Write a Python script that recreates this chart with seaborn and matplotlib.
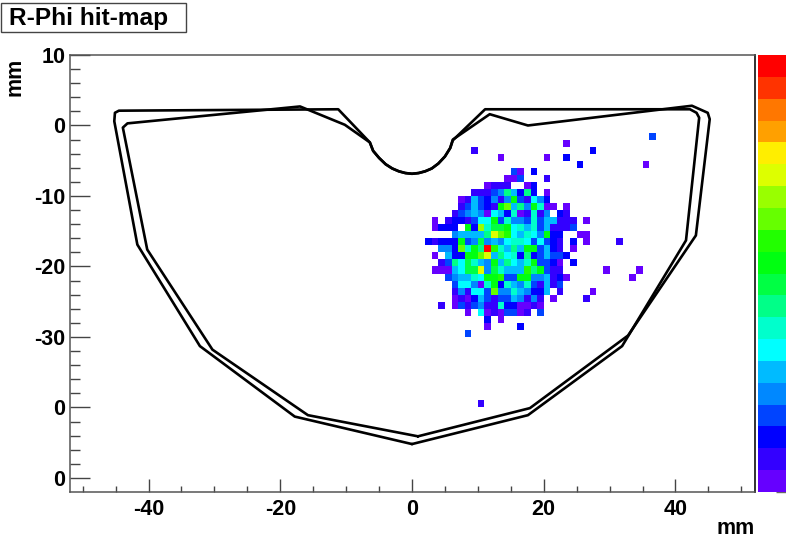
import matplotlib
matplotlib.use("Agg")
import matplotlib.pyplot as plt
import numpy as np
import seaborn as sns
from matplotlib.colors import ListedColormap
from matplotlib.patches import Rectangle
from matplotlib.ticker import FixedLocator

_ = None

# colour levels, lowest first
level_colors = [
    "#6600ff", "#3300ff", "#0000ff", "#0044ff", "#0088ff",
    "#00bbff", "#00ffff", "#00ffcc", "#00ff88", "#00ff44",
    "#00ff11", "#22ff00", "#66ff00", "#99ff00", "#ddff00",
    "#ffee00", "#ffa000", "#ff7700", "#ff3300", "#ff0000",
]

# main blob: lower bin edge in y, first bin in x, colour level per bin
blob_y = [-7, -8, -9, -10, -11, -12, -13, -14, -15, -16, -17, -18,
          -19, -20, -21, -22, -23, -24, -25, -26, -27, -28, -29]
blob_x = [15, 14, 11, 9, 7, 7, 6, 3, 3, 6, 2, 4,
          3, 4, 3, 5, 6, 6, 6, 6, 8, 11, 11]
blob_levels = [
    [3, 0, _, 2],
    [0, 0, 3, _, _, _, 1],
    [0, 1, 1, 1, _, _, 0, 2],
    [1, 1, 1, 3, 4, 8, 5, 2, 8, 2, _, 0],
    [0, 1, 5, 3, 2, 4, 1, 4, 10, 3, 1, 6, 4, 2],
    [1, 3, 5, 3, 2, 1, 10, 12, 5, 8, 4, 10, 7, 0, 0, _, 0],
    [1, 3, 4, 5, 4, 0, 6, 5, 2, 7, 0, 1, 7, 1, 4, _, 2, 1],
    [0, _, 1, 2, 2, 1, 3, 6, 6, 10, 3, 7, 4, 4, 3, 7, 3, 5, 5, 1, 1, 1],
    [0, 2, 2, 2, _, 10, 2, 13, 7, 9, 9, 10, 6, 7, 5, 7, 3, 5, 1, 1, 1, 3],
    [4, 5, 5, 5, 5, 8, 14, 12, 11, 6, 5, 7, 6, 4, 10, 2, 2, _, _, 0, 0],
    [2, 1, 2, 2, 2, 10, 3, 4, 9, 4, 5, 4, 6, 7, 7, 6, 3, 6, 3, 2, 1, _, 2],
    [4, 4, 2, 12, 7, 10, 8, 19, 11, 7, 5, 8, 5, 10, 10, 3, 5, 2, 1, _, 0],
    [0, _, 5, 2, 2, 10, 10, 12, 14, 5, 8, 6, 7, 2, 8, 2, 3, 5, 3, 3, 2],
    [1, 3, 8, 6, 9, 7, 5, 4, 10, 5, 8, 6, 5, 7, 10, 3, 3, 2, 0, _, 2],
    [0, 0, 0, 5, 6, 9, 9, 14, 4, 9, 7, 5, 5, 5, 11, 8, 10, 3, 1, 1],
    [3, 4, 5, 5, 7, 6, 10, 10, 11, 3, 3, 10, 10, 4, 4, 5, 1, 2, 0],
    [3, 6, 6, 4, 0, 7, 10, 2, 7, 5, 4, 7, 3, 1, 5, 1, 3],
    [1, 4, 1, 6, 6, 3, 12, 4, 4, 7, 5, 4, 2, 2, 5, _, 1],
    [0, 1, 0, 2, 5, 3, 1, 3, 3, 5, 4, 1, 4, 1, _, 0],
    [0, 3, 1, 3, 4, 1, 1, 7, 2, 2, 0, 0, 1, 0],
    [0, _, 6, 0, 1, 0, 3, 3, 0, 1, _, 3],
    [2, _, 0],
    [0],
]

# isolated hits away from the blob
stray_x = [36, 23, 9, 27, 13, 20, 23, 25, 35, 10, 8, 16, 34, 29, 33, 31, 27, 26, 4, 26, 26]
stray_y = [-2, -3, -4, -4, -5, -5, -5, -6, -6, -40, -30, -29, -21, -21, -22, -17, -24, -25, -26, -17, -14]
stray_levels = [3, 0, 1, 2, 0, 0, 2, 2, 0, 1, 3, 2, 0, 0, 0, 1, 0, 1, 1, 0, 0]

# sensor outlines in mm
outline_a_x = [0, 17.6, 31.9, 41.6, 43.6, 43.2, 42.2, 11.1, 6.2, 5.8, 5.0, 4.0, 3.0, 2.0, 1.0, 0,
               -1.0, -2.0, -3.0, -4.0, -5.0, -5.9, -6.4, -11.2, -44.5, -45.1, -45.2,
               -41.7, -32.2, -17.8, 0]
outline_a_y = [-45.2, -41.1, -31.3, -16.3, 1.1, 1.8, 2.3, 2.3, -2.1, -3.2, -4.4, -5.4, -6.1, -6.5, -6.75, -6.85,
               -6.75, -6.5, -6.1, -5.5, -4.6, -3.6, -2.4, 2.3, 2.1, 1.8, 0.6,
               -16.9, -31.3, -41.3, -45.2]
outline_b_x = [0.9, 17.9, 32.8, 43.1, 45.2, 44.9, 42.5, 17.6, 11.8, 6.2, 5.8, 5.0, 4.0, 3.0, 2.0, 1.0, 0,
               -1.0, -2.0, -3.0, -4.0, -5.0, -5.9, -6.4, -10.2, -17.0, -43.2, -43.9,
               -40.2, -30.3, -15.8, 0.9]
outline_b_y = [-44.1, -40.1, -29.8, -15.6, 0.9, 1.8, 2.8, 0, 1.6, -2.0, -3.2, -4.4, -5.4, -6.1, -6.5, -6.75, -6.85,
               -6.75, -6.5, -6.1, -5.5, -4.6, -3.6, -2.4, 0.1, 2.7, 0.3, -0.3,
               -17.6, -31.8, -41.1, -44.1]

x_major = [-40, -20, 0, 20, 40]
y_major = [10, 0, -10, -20, -30, -40, -50]
y_labels = ["10", "0", "-10", "-20", "-30", "0", "0"]
cbar_ticks = [0, 2.63, 5.26, 7.89, 10.52, 13.15, 15.78, 18.41]

X_MIN, X_MAX = -52, 52
Y_MIN, Y_MAX = -52, 10
W, H = 786, 541

sns.set_theme(style="white")
plt.rcParams["font.family"] = ["Liberation Sans", "DejaVu Sans"]
plt.rcParams["font.weight"] = "bold"
plt.rcParams["text.color"] = "black"


def build_grid() -> np.ndarray:
    """Fill the 1 mm bin grid, top row first, bin centres on the level index."""
    grid = np.full((Y_MAX - Y_MIN, X_MAX - X_MIN), np.nan)
    for y, x0, levels in zip(blob_y, blob_x, blob_levels):
        for i, level in enumerate(levels):
            if level is not None:
                grid[Y_MAX - 1 - y, x0 + i - X_MIN] = level + 0.5
    for x, y, level in zip(stray_x, stray_y, stray_levels):
        grid[Y_MAX - 1 - y, x - X_MIN] = level + 0.5
    return grid


fig = plt.figure(figsize=(W / 100, H / 100), dpi=100)
ax = fig.add_axes([69.5 / W, 1 - 492 / H, 685 / W, 437 / H])
cax = fig.add_axes([758 / W, 1 - 492 / H, 28 / W, 437 / H])

sns.heatmap(
    build_grid(), ax=ax, cbar_ax=cax,
    cmap=ListedColormap(level_colors), vmin=0, vmax=20,
    xticklabels=False, yticklabels=False,
)

for xs, ys in [(outline_a_x, outline_a_y), (outline_b_x, outline_b_y)]:
    sns.lineplot(
        x=np.array(xs) - X_MIN, y=Y_MAX - np.array(ys),
        sort=False, estimator=None, color="black", linewidth=1.9, ax=ax,
    )

# axes, heatmap cells count from the top left corner
ax.set_xticks([v - X_MIN for v in x_major])
ax.set_xticklabels([str(v) for v in x_major], fontsize=15.5, fontweight="bold")
ax.set_yticks([Y_MAX - v for v in y_major])
ax.set_yticklabels(y_labels, fontsize=15.5, fontweight="bold")
ax.xaxis.set_minor_locator(FixedLocator([v - X_MIN for v in range(-50, 51, 5)]))
ax.yaxis.set_minor_locator(FixedLocator([Y_MAX - v for v in range(-50, 11, 2)]))
ax.tick_params(axis="x", which="major", direction="in", length=9.4, width=1, color="#444444",
               bottom=True, pad=5, labelcolor="black")
ax.tick_params(axis="x", which="minor", direction="in", length=4.4, width=1, color="#444444", bottom=True)
ax.tick_params(axis="y", which="major", direction="in", length=14.4, width=1, color="#444444",
               left=True, pad=3, labelcolor="black")
ax.tick_params(axis="y", which="minor", direction="in", length=7.2, width=1, color="#444444", left=True)

for side in ["left", "top", "bottom"]:
    ax.spines[side].set_visible(True)
    ax.spines[side].set_color("#555555")
    ax.spines[side].set_linewidth(1.1)
ax.spines["right"].set_visible(True)
ax.spines["right"].set_color("#222222")
ax.spines["right"].set_linewidth(1.3)

# palette strip runs off the right edge of the picture
cbar = ax.collections[0].colorbar
cbar.outline.set_visible(False)
cbar.set_ticks(cbar_ticks)
cax.yaxis.set_ticks_position("right")
cax.tick_params(axis="y", which="major", direction="in", length=7.2, width=1,
                color="#00000099", labelright=False, right=True)
cax.minorticks_off()

fig.text(755 / W, 1 - 528 / H, "mm", fontsize=15.5, fontweight="bold", color="black", ha="right", va="center")
fig.text(15 / W, 1 - 77 / H, "mm", fontsize=15.5, fontweight="bold", color="black", rotation=90,
         ha="center", va="center")

fig.add_artist(Rectangle((0.5 / W, 1 - 32 / H), 185 / W, 29 / H, transform=fig.transFigure,
                         facecolor="white", edgecolor="#444444", linewidth=1))
fig.text(9 / W, 1 - 18 / H, "R-Phi hit-map", fontsize=17.6, fontweight="bold", color="black", ha="left", va="center")

fig.savefig("out.png", dpi=100)
